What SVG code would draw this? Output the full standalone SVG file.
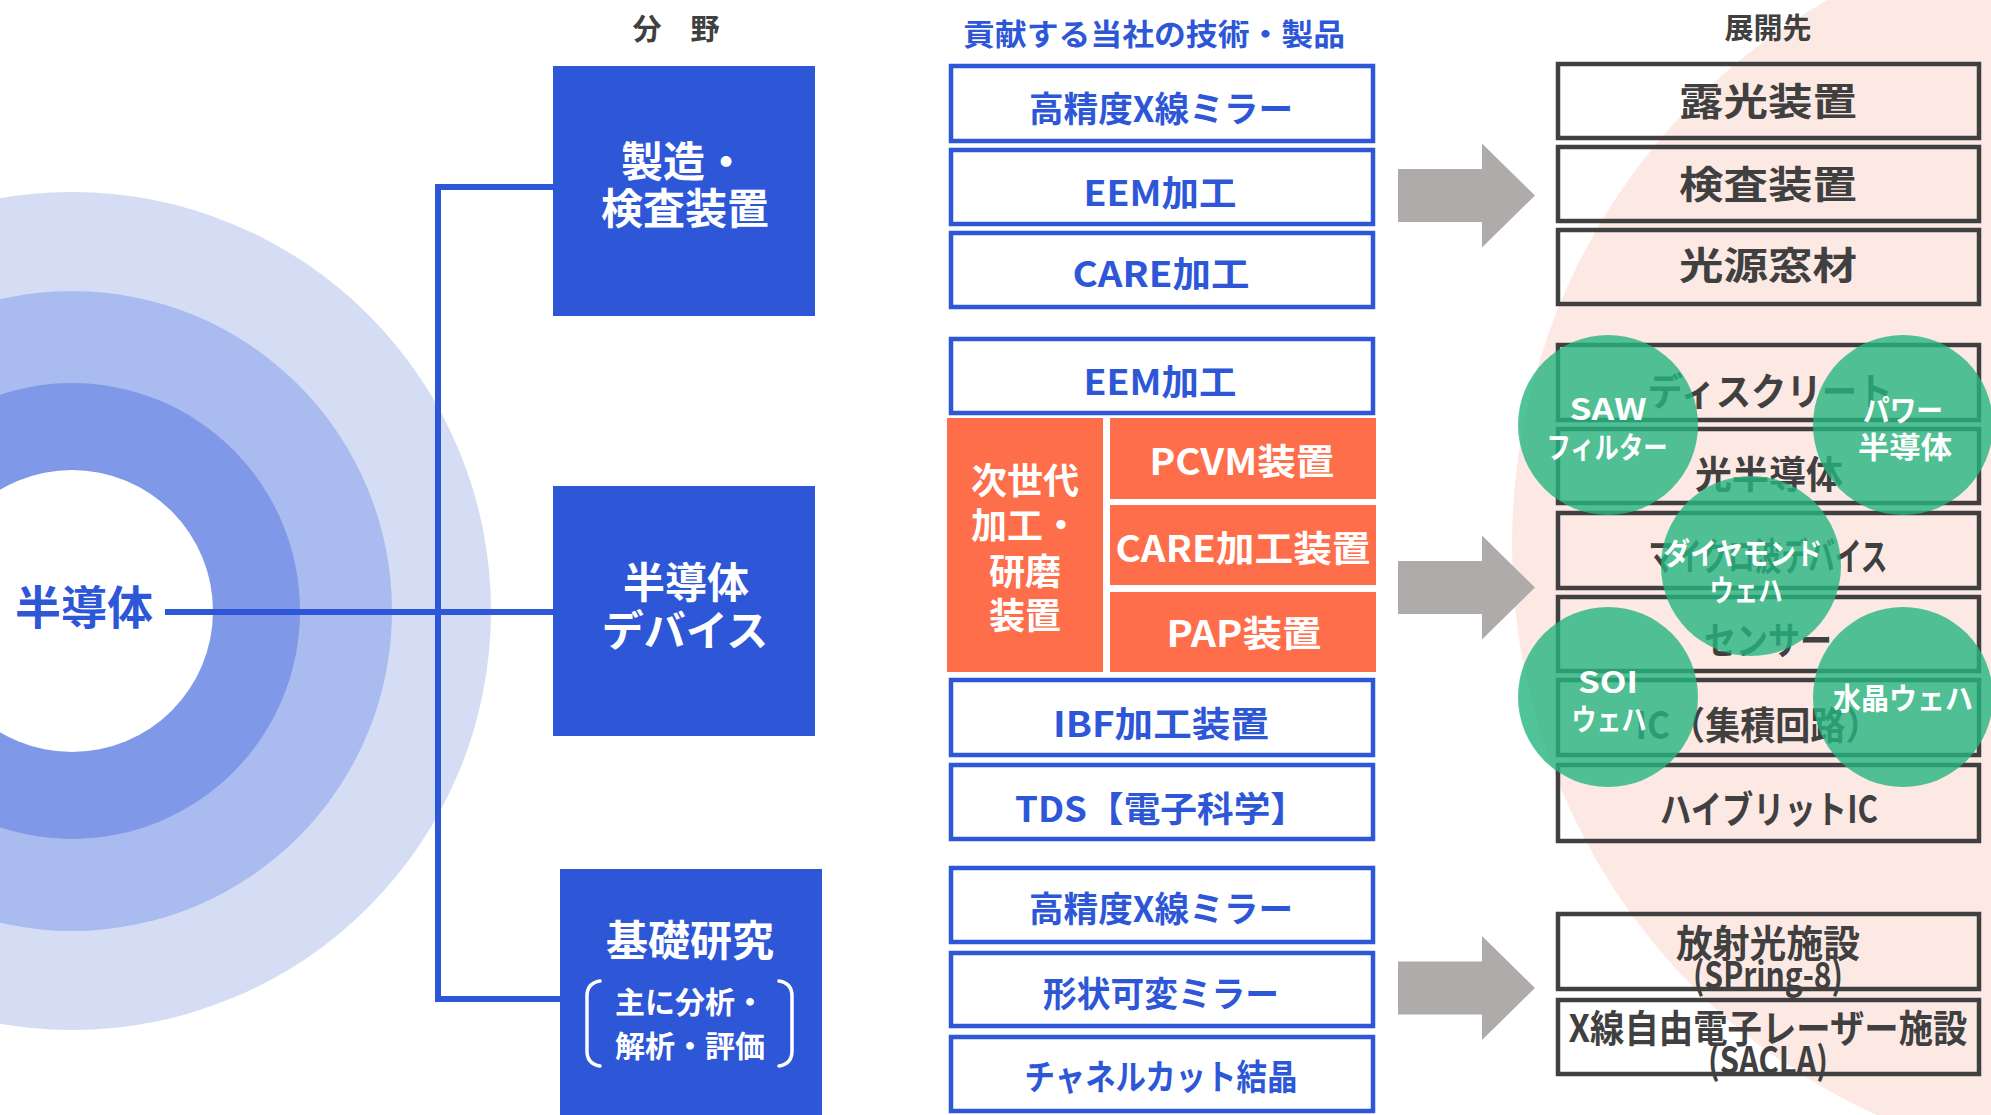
<svg xmlns="http://www.w3.org/2000/svg" width="1991" height="1115" viewBox="0 0 1991 1115">
<style>
text{font-family:"Noto Sans CJK JP","Noto Sans",sans-serif;font-weight:bold;dominant-baseline:central;text-anchor:middle}
.hd{fill:#404040;font-size:29px}
.hb{fill:#2e57d8;font-size:30px}
.fld{fill:#2e57d8}
.fldt{fill:#fff;font-size:42px}
.mb{fill:#fff;stroke:#2e57d8;stroke-width:4.5}
.mt{fill:#2e57d8;font-size:35px}
.ob{fill:#ff6e4b}
.ot{fill:#fff;font-size:36px}
.rb{fill:none;stroke:#404040;stroke-width:4.5}
.rt{fill:#404040;font-size:38px}
.gc{fill:#24b47f;fill-opacity:0.8}
.gt{fill:#fff;font-size:30px}
.conn{fill:none;stroke:#2e57d8;stroke-width:6}
.arr{fill:#afabab}
.brk{fill:none;stroke:#fff;stroke-width:3.5;stroke-linecap:round}
</style>
<defs>
<path id="arrowShape" d="M-137,-26.5 H-53 V-52 L0,0 L-53,52 V26.5 H-137 Z"/>
</defs>
<rect width="1991" height="1115" fill="#fff"/>
<g id="background">
<ellipse cx="2130" cy="545" rx="618" ry="625" fill="#fde9e4"/>
<circle cx="72" cy="611" r="419" fill="#d5ddf5"/>
<circle cx="72" cy="611" r="320" fill="#aabbef"/>
<circle cx="72" cy="611" r="228" fill="#7f98e8"/>
<circle cx="72" cy="611" r="141" fill="#fff"/>
</g>
<g id="headers">
<text class="hd" x="676" y="27" font-size="29">分　野</text>
<text class="hb" x="1154" y="32" textLength="382" lengthAdjust="spacingAndGlyphs">貢献する当社の技術・製品</text>
<text class="hd" x="1768" y="26">展開先</text>
</g>
<g id="connectors">
<path class="conn" d="M553,187 H438 V999 H560"/>
<path class="conn" d="M165,612 H553"/>
<use href="#arrowShape" class="arr" x="1535" y="195.5"/>
<use href="#arrowShape" class="arr" x="1535" y="587.5"/>
<use href="#arrowShape" class="arr" x="1535" y="988"/>
</g>
<g id="node-semiconductor">
<text x="84" y="604" fill="#2e57d8" font-size="46">半導体</text>
</g>
<g id="node-field-manufacturing">
<rect class="fld" x="553" y="66" width="262" height="250"/>
<text class="fldt" x="684" y="158">製造・</text>
<text class="fldt" x="685" y="205">検査装置</text>
</g>
<g id="node-field-device">
<rect class="fld" x="553" y="486" width="262" height="250"/>
<text class="fldt" x="686" y="579">半導体</text>
<text class="fldt" x="685" y="627">デバイス</text>
</g>
<g id="node-field-research">
<rect class="fld" x="560" y="869" width="262" height="250"/>
<text class="fldt" x="690" y="937">基礎研究</text>
<text x="690" y="1000" fill="#fff" font-size="30">主に分析・</text>
<text x="690" y="1044" fill="#fff" font-size="30">解析・評価</text>
<path class="brk" d="M600,981 Q587,983 587,996 V1051 Q587,1064 600,1066"/>
<path class="brk" d="M779,981 Q792,983 792,996 V1051 Q792,1064 779,1066"/>
</g>
<g id="node-tech-xray-mirror-1">
<rect class="mb" x="951" y="66" width="422" height="75"/>
<text class="mt" x="1161" y="106" textLength="264" lengthAdjust="spacingAndGlyphs">高精度X線ミラー</text>
</g>
<g id="node-tech-eem-1">
<rect class="mb" x="951" y="150" width="422" height="74"/>
<text class="mt" x="1160" y="190" textLength="153" lengthAdjust="spacingAndGlyphs">EEM加工</text>
</g>
<g id="node-tech-care">
<rect class="mb" x="951" y="233" width="422" height="74"/>
<text class="mt" x="1161" y="271" textLength="177" lengthAdjust="spacingAndGlyphs">CARE加工</text>
</g>
<g id="node-tech-eem-2">
<rect class="mb" x="951" y="339" width="422" height="74"/>
<text class="mt" x="1160" y="379" textLength="153" lengthAdjust="spacingAndGlyphs">EEM加工</text>
</g>
<g id="node-next-gen">
<rect class="ob" x="947" y="418" width="156" height="254"/>
<text class="ot" x="1025" y="478">次世代</text>
<text class="ot" x="1025" y="523">加工・</text>
<text class="ot" x="1025" y="569">研磨</text>
<text class="ot" x="1025" y="613">装置</text>
</g>
<g id="node-pcvm">
<rect class="ob" x="1110" y="418" width="266" height="81"/>
<text class="ot" x="1242" y="459" textLength="185" lengthAdjust="spacingAndGlyphs">PCVM装置</text>
</g>
<g id="node-care-equip">
<rect class="ob" x="1110" y="505" width="266" height="80"/>
<text class="ot" x="1243" y="546" textLength="255" lengthAdjust="spacingAndGlyphs">CARE加工装置</text>
</g>
<g id="node-pap">
<rect class="ob" x="1110" y="592" width="266" height="80"/>
<text class="ot" x="1244" y="631" textLength="155" lengthAdjust="spacingAndGlyphs">PAP装置</text>
</g>
<g id="node-tech-ibf">
<rect class="mb" x="951" y="680" width="422" height="75"/>
<text class="mt" x="1161" y="721" textLength="216" lengthAdjust="spacingAndGlyphs">IBF加工装置</text>
</g>
<g id="node-tech-tds">
<rect class="mb" x="951" y="765" width="422" height="74"/>
<text class="mt" x="1161" y="806" textLength="292" lengthAdjust="spacingAndGlyphs">TDS【電子科学】</text>
</g>
<g id="node-tech-xray-mirror-2">
<rect class="mb" x="951" y="868" width="422" height="74"/>
<text class="mt" x="1161" y="906" textLength="264" lengthAdjust="spacingAndGlyphs">高精度X線ミラー</text>
</g>
<g id="node-tech-deformable-mirror">
<rect class="mb" x="951" y="953" width="422" height="73"/>
<text class="mt" x="1161" y="991" textLength="236" lengthAdjust="spacingAndGlyphs">形状可変ミラー</text>
</g>
<g id="node-tech-channel-cut">
<rect class="mb" x="951" y="1037" width="422" height="74"/>
<text class="mt" x="1161" y="1074" textLength="273" lengthAdjust="spacingAndGlyphs">チャネルカット結晶</text>
</g>
<g id="node-app-exposure">
<rect class="rb" x="1558" y="64" width="421" height="74"/>
<text class="rt" x="1768" y="98" font-size="43" textLength="178" lengthAdjust="spacingAndGlyphs">露光装置</text>
</g>
<g id="node-app-inspection">
<rect class="rb" x="1558" y="147" width="421" height="74"/>
<text class="rt" x="1768" y="181" font-size="43" textLength="178" lengthAdjust="spacingAndGlyphs">検査装置</text>
</g>
<g id="node-app-window">
<rect class="rb" x="1558" y="230" width="421" height="74"/>
<text class="rt" x="1768" y="262" font-size="43" textLength="178" lengthAdjust="spacingAndGlyphs">光源窓材</text>
</g>
<g id="node-app-discrete">
<rect class="rb" x="1558" y="345" width="421" height="75"/>
<text class="rt" x="1770" y="388" font-size="40" textLength="245" lengthAdjust="spacingAndGlyphs">ディスクリート</text>
</g>
<g id="node-app-opto">
<rect class="rb" x="1558" y="429" width="421" height="74"/>
<text class="rt" x="1769" y="471" font-size="37" textLength="148" lengthAdjust="spacingAndGlyphs">光半導体</text>
</g>
<g id="node-app-microwave">
<rect class="rb" x="1558" y="513" width="421" height="75"/>
<text class="rt" x="1768" y="553" font-size="32" textLength="239" lengthAdjust="spacingAndGlyphs">マイクロ波デバイス</text>
</g>
<g id="node-app-sensor">
<rect class="rb" x="1558" y="597" width="421" height="74"/>
<text class="rt" x="1768" y="637" font-size="36" textLength="128" lengthAdjust="spacingAndGlyphs">センサー</text>
</g>
<g id="node-app-ic">
<rect class="rb" x="1558" y="680" width="421" height="75"/>
<text class="rt" x="1758" y="722" font-size="38" textLength="245" lengthAdjust="spacingAndGlyphs">IC（集積回路）</text>
</g>
<g id="node-app-hybrid">
<rect class="rb" x="1558" y="765" width="421" height="76"/>
<text class="rt" x="1769" y="806" font-size="37" textLength="218" lengthAdjust="spacingAndGlyphs">ハイブリットIC</text>
</g>
<g id="node-app-spring8">
<rect class="rb" x="1558" y="914" width="421" height="75"/>
<text class="rt" x="1768" y="940" font-size="34" textLength="184" lengthAdjust="spacingAndGlyphs">放射光施設</text>
<text class="rt" x="1768" y="972" font-size="23" textLength="150" lengthAdjust="spacingAndGlyphs">(SPring-8)</text>
</g>
<g id="node-app-sacla">
<rect class="rb" x="1558" y="1000" width="421" height="74"/>
<text class="rt" x="1768" y="1025" font-size="33" textLength="399" lengthAdjust="spacingAndGlyphs">X線自由電子レーザー施設</text>
<text class="rt" x="1768" y="1057" font-size="23" textLength="120" lengthAdjust="spacingAndGlyphs">(SACLA)</text>
</g>
<g id="node-mat-saw">
<circle class="gc" cx="1608" cy="425" r="90"/>
<text class="gt" x="1608" y="407" textLength="77" lengthAdjust="spacingAndGlyphs">SAW</text>
<text class="gt" x="1607" y="445" textLength="121" lengthAdjust="spacingAndGlyphs">フィルター</text>
</g>
<g id="node-mat-power">
<circle class="gc" cx="1903" cy="425" r="90"/>
<text class="gt" x="1903" y="408" textLength="80" lengthAdjust="spacingAndGlyphs">パワー</text>
<text class="gt" x="1905" y="445" textLength="94" lengthAdjust="spacingAndGlyphs">半導体</text>
</g>
<g id="node-mat-diamond">
<circle class="gc" cx="1751" cy="566" r="90"/>
<text class="gt" x="1743" y="551" textLength="159" lengthAdjust="spacingAndGlyphs">ダイヤモンド</text>
<text class="gt" x="1746" y="588" textLength="73" lengthAdjust="spacingAndGlyphs">ウェハ</text>
</g>
<g id="node-mat-soi">
<circle class="gc" cx="1608" cy="697" r="90"/>
<text class="gt" x="1608" y="680" textLength="60" lengthAdjust="spacingAndGlyphs">SOI</text>
<text class="gt" x="1609" y="717" textLength="75" lengthAdjust="spacingAndGlyphs">ウェハ</text>
</g>
<g id="node-mat-quartz">
<circle class="gc" cx="1903" cy="697" r="90"/>
<text class="gt" x="1903" y="696" textLength="140" lengthAdjust="spacingAndGlyphs">水晶ウェハ</text>
</g>
</svg>
